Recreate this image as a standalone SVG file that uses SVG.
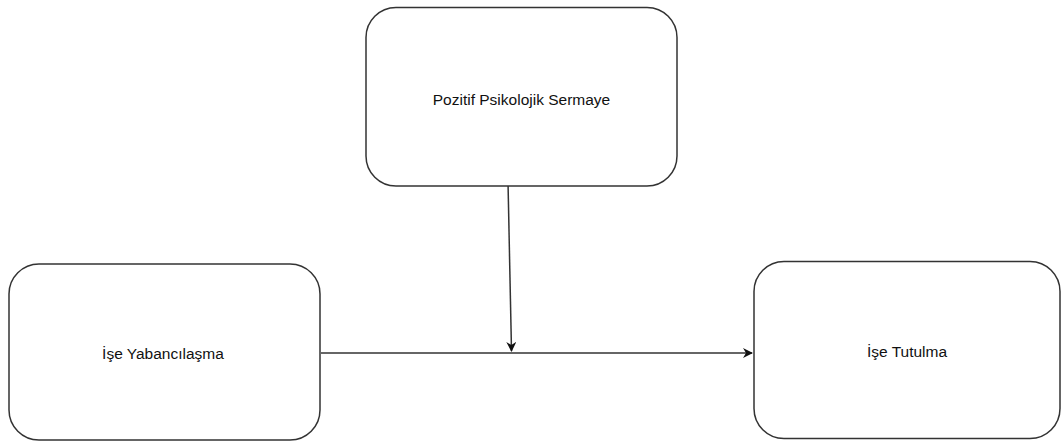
<svg xmlns="http://www.w3.org/2000/svg" width="1062" height="441" viewBox="0 0 1062 441">
<style>
.node rect{fill:#fff;stroke:#333;stroke-width:1.5}
.node text{font-family:"Liberation Sans",Arial,sans-serif;font-size:15.5px;fill:#111;text-anchor:middle;dominant-baseline:central}
.edge{stroke:#333;stroke-width:1.5;fill:none}
</style>
<defs>
<marker id="arr" viewBox="0 0 10 10" refX="9" refY="5" markerWidth="10" markerHeight="10" markerUnits="userSpaceOnUse" orient="auto">
<path d="M0,0 L10,5 L0,10 L3,5 Z" fill="#111"/>
</marker>
</defs>
<g id="connectors">
<line class="edge" x1="321" y1="353" x2="752" y2="353" marker-end="url(#arr)"/>
<line class="edge" x1="508" y1="182" x2="511.5" y2="351" marker-end="url(#arr)"/>
</g>
<g id="node-pps" class="node">
<rect x="366" y="7.5" width="311" height="178.5" rx="30"/>
<text x="521.5" y="99">Pozitif Psikolojik Sermaye</text>
</g>
<g id="node-iy" class="node">
<rect x="9" y="264" width="311" height="176" rx="30"/>
<text x="163" y="353">İşe Yabancılaşma</text>
</g>
<g id="node-it" class="node">
<rect x="754" y="261.5" width="306" height="177" rx="30"/>
<text x="907" y="351">İşe Tutulma</text>
</g>
</svg>
